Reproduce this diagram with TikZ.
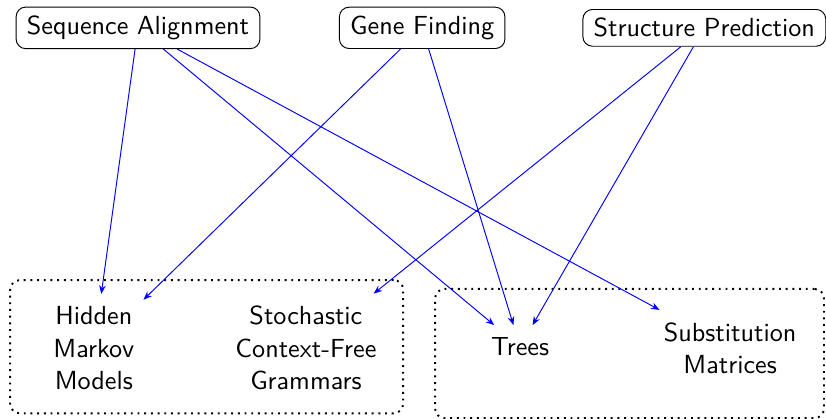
\documentclass[tikz,border=0pt,11pt]{standalone}
\usepackage{tikz}
\usetikzlibrary{arrows.meta}

\begin{document}
\begin{tikzpicture}[
    > = {Stealth[length=3.6pt,width=2.8pt]}, % arrow head style
    font = \sffamily,
    thin % line style
    ]

    \tikzset{
    task/.style = {draw = black, rounded corners, inner xsep = 4.5pt},
    topic/.style = {align = center, inner ysep = 5pt},
    group/.style = {draw = black, thick, dotted, rounded corners},
    link/.style = {->, blue}
    }

    \useasboundingbox (0,0) rectangle (12.15,-6.16);

    % boxes round the topics
    \node[group, minimum width = 5.78cm, minimum height = 1.96cm] (left) at (3.04,-5.10) {};
    \node[group, minimum width = 5.72cm, minimum height = 1.90cm] (right) at (9.26,-5.20) {};

    \node[task] (seq) at (2.03,-0.41) {Sequence Alignment};
    \node[task] (gene) at (6.21,-0.41) {Gene Finding};
    \node[task] (struct) at (10.36,-0.41) {Structure Prediction};

    \node[topic] (hmm) at (1.38,-5.12) {Hidden\\Markov\\Models};
    \node[topic] (scfg) at (4.50,-5.12) {Stochastic\\Context-Free\\Grammars};
    \node[topic] (trees) at (7.65,-5.10) {Trees};
    \node[topic] (subst) at (10.74,-5.12) {Substitution\\Matrices};

    \path[link] (seq) edge (hmm);
    \path[link] (seq) edge (trees);
    \path[link] (seq) edge (subst);
    \path[link] (gene) edge (hmm);
    \path[link] (gene) edge (trees);
    \path[link] (struct) edge (scfg);
    \path[link] (struct) edge (trees);
\end{tikzpicture}
\end{document}
